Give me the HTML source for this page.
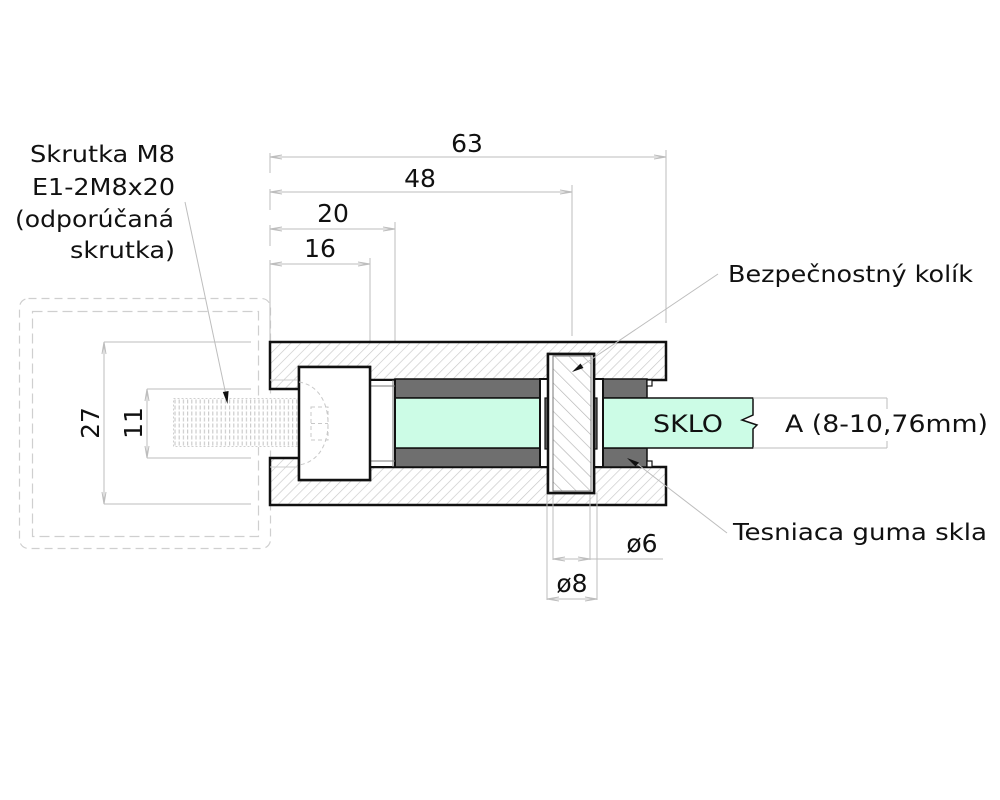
<!DOCTYPE html>
<html><head><meta charset="utf-8"><style>
html,body{margin:0;padding:0;background:#fff;}
svg{display:block;}
text{font-family:"DejaVu Sans","Liberation Sans",sans-serif;fill:#111;}
</style></head><body>
<svg width="1000" height="800" viewBox="0 0 1000 800" xmlns="http://www.w3.org/2000/svg">
<defs>
<pattern id="h1" patternUnits="userSpaceOnUse" width="7" height="7" patternTransform="rotate(45)">
<rect width="7" height="7" fill="#fff"/><line x1="0" y1="0" x2="0" y2="7" stroke="#c8c8c8" stroke-width="1.3"/>
</pattern>
<pattern id="h2" patternUnits="userSpaceOnUse" width="10" height="10" patternTransform="rotate(-45)">
<rect width="10" height="10" fill="#fff"/><line x1="0" y1="0" x2="0" y2="10" stroke="#b4b4b4" stroke-width="1.3"/>
</pattern>
<pattern id="th" patternUnits="userSpaceOnUse" width="4.2" height="6" x="173" y="399">
<rect width="4.2" height="6" fill="#fff"/><line x1="2" y1="0.5" x2="2" y2="4.5" stroke="#c8c8c8" stroke-width="1.1"/>
</pattern>
</defs>
<rect width="1000" height="800" fill="#fff"/>

<!-- dashed boxes -->
<rect x="19.5" y="298.5" width="251" height="250" rx="9" fill="none" stroke="#cfcfcf" stroke-width="1.2" stroke-dasharray="8,5"/>
<rect x="32.5" y="311.5" width="226" height="225" fill="none" stroke="#cfcfcf" stroke-width="1.2" stroke-dasharray="10,5"/>

<!-- threads -->
<rect x="173" y="398" width="127" height="49" fill="url(#th)"/>
<rect x="173.5" y="398.5" width="126" height="48" fill="none" stroke="#d0d0d0" stroke-width="1" stroke-dasharray="2,2"/>

<!-- dims 27 / 11 -->
<g stroke="#bdbdbd" stroke-width="1" fill="none">
<line x1="104" y1="342" x2="251" y2="342"/>
<line x1="104" y1="504" x2="251" y2="504"/>
<line x1="104" y1="342" x2="104" y2="504"/>
<path d="M102,354 L104,342 L106,354 M102,492 L104,504 L106,492"/>
<line x1="147" y1="389" x2="251" y2="389"/>
<line x1="147" y1="458" x2="251" y2="458"/>
<line x1="147" y1="389" x2="147" y2="458"/>
<path d="M145,401 L147,389 L149,401 M145,446 L147,458 L149,446"/>
</g>
<text transform="translate(99,423) rotate(-90)" font-size="25" text-anchor="middle">27</text>
<text transform="translate(142,423) rotate(-90)" font-size="25" text-anchor="middle">11</text>

<!-- top dims -->
<g stroke="#bdbdbd" stroke-width="1" fill="none">
<line x1="270" y1="153" x2="270" y2="173"/>
<line x1="270" y1="189" x2="270" y2="210"/>
<line x1="270" y1="225" x2="270" y2="246"/>
<line x1="270" y1="260" x2="270" y2="342"/>
<line x1="270" y1="157" x2="666" y2="157"/>
<line x1="666" y1="150" x2="666" y2="323"/>
<path d="M282,155 L270,157 L282,159 M654,155 L666,157 L654,159"/>
<line x1="270" y1="192" x2="572" y2="192"/>
<line x1="572" y1="185" x2="572" y2="336"/>
<path d="M282,190 L270,192 L282,194 M560,190 L572,192 L560,194"/>
<line x1="270" y1="229" x2="395" y2="229"/>
<line x1="395" y1="222" x2="395" y2="362"/>
<path d="M282,227 L270,229 L282,231 M383,227 L395,229 L383,231"/>
<line x1="270" y1="264" x2="370" y2="264"/>
<line x1="370" y1="258" x2="370" y2="347"/>
<path d="M282,262 L270,264 L282,266 M358,262 L370,264 L358,266"/>
</g>
<text x="467" y="152" font-size="25" text-anchor="middle">63</text>
<text x="420" y="187" font-size="25" text-anchor="middle">48</text>
<text x="333" y="222" font-size="25" text-anchor="middle">20</text>
<text x="320" y="257" font-size="25" text-anchor="middle">16</text>

<!-- body plates -->
<path d="M270,342 H666 V380 H594 V354 H548 V380 H370 V367 H299 V389 H270 Z" fill="url(#h1)" stroke="#111" stroke-width="2.5"/>
<path d="M270,505 H666 V467 H594 V493 H548 V467 H370 V480 H299 V458 H270 Z" fill="url(#h1)" stroke="#111" stroke-width="2.5"/>
<line x1="270" y1="380" x2="299" y2="380" stroke="#ccc" stroke-width="1"/>
<line x1="270" y1="467" x2="299" y2="467" stroke="#ccc" stroke-width="1"/>
<!-- ext lines over body -->
<g stroke="#bdbdbd" stroke-width="1">
<line x1="547" y1="493" x2="547" y2="600"/>
<line x1="597" y1="493" x2="597" y2="600"/>
<line x1="553" y1="493" x2="553" y2="560"/>
<line x1="590" y1="493" x2="590" y2="560"/>
</g>

<!-- gaskets -->
<rect x="395" y="379" width="145" height="19" fill="#6f6f6f" stroke="#111" stroke-width="1.5"/>
<rect x="395" y="448" width="145" height="19" fill="#6f6f6f" stroke="#111" stroke-width="1.5"/>
<rect x="603" y="379" width="44" height="19" fill="#6f6f6f" stroke="#111" stroke-width="1.5"/>
<rect x="603" y="448" width="44" height="19" fill="#6f6f6f" stroke="#111" stroke-width="1.5"/>
<rect x="647" y="380" width="5" height="6" fill="#fff" stroke="#111" stroke-width="1.2"/>
<rect x="647" y="461" width="5" height="6" fill="#fff" stroke="#111" stroke-width="1.2"/>

<!-- glass -->
<rect x="395" y="398" width="145" height="50" fill="#ccfce6" stroke="#111" stroke-width="1.5"/>
<path d="M603,398 H753 V415 L742,420 L757,425 L753,429 V448 H603 Z" fill="#ccfce6" stroke="#111" stroke-width="1.5"/>

<!-- sleeve -->
<rect x="540" y="379" width="63" height="88" fill="#fff" stroke="#111" stroke-width="2"/>
<rect x="545" y="398" width="8" height="51" fill="#6f6f6f" stroke="#111" stroke-width="1.2"/>
<rect x="591" y="398" width="6" height="51" fill="#6f6f6f" stroke="#111" stroke-width="1.2"/>

<!-- pin -->
<rect x="548" y="354" width="46" height="139" fill="#fff" stroke="#111" stroke-width="2.5"/>
<rect x="553" y="356" width="38" height="135" fill="url(#h2)" stroke="#777" stroke-width="1"/>

<!-- washer / bolt head -->
<rect x="370" y="380" width="25" height="87" fill="#fff" stroke="#111" stroke-width="2"/>
<line x1="370" y1="386" x2="395" y2="386" stroke="#777" stroke-width="1"/>
<line x1="370" y1="461" x2="395" y2="461" stroke="#777" stroke-width="1"/>
<line x1="393" y1="380" x2="393" y2="467" stroke="#777" stroke-width="1"/>
<rect x="299" y="367" width="71" height="113" fill="#fff" stroke="#111" stroke-width="2.5"/>
<g fill="none" stroke="#c8c8c8" stroke-width="1" stroke-dasharray="4,3">
<path d="M299,382 C318,385 328,402 328,423.5 C328,445 318,462 299,465"/>
<rect x="311" y="407" width="17" height="33"/>
<line x1="311" y1="423.5" x2="328" y2="423.5"/>
</g>

<!-- leaders -->
<g stroke="#bdbdbd" stroke-width="1" fill="none">
<line x1="185" y1="202" x2="226" y2="395"/>
<line x1="718" y1="274" x2="580" y2="367"/>
<line x1="727" y1="533" x2="636" y2="463"/>
</g>
<path d="M227.5,404 L222.8,392 L228.6,391 Z" fill="#111"/>
<path d="M572,372 L580.5,363.5 L583.5,368 Z" fill="#111"/>
<path d="M627,458 L639,462.5 L635.5,466.5 Z" fill="#111"/>

<!-- bottom dims -->
<g stroke="#bdbdbd" stroke-width="1" fill="none">
<line x1="553" y1="559" x2="663" y2="559"/>
<path d="M565,557 L553,559 L565,561 M578,557 L590,559 L578,561"/>
<line x1="547" y1="599" x2="597" y2="599"/>
<path d="M559,597 L547,599 L559,601 M585,597 L597,599 L585,601"/>
</g>
<text x="642" y="552" font-size="25" text-anchor="middle">ø6</text>
<text x="572" y="592" font-size="25" text-anchor="middle">ø8</text>

<!-- dim A -->
<g stroke="#bdbdbd" stroke-width="1" fill="none">
<line x1="753" y1="398" x2="887" y2="398"/>
<line x1="753" y1="448" x2="887" y2="448"/>
<line x1="887" y1="398" x2="887" y2="409"/>
<line x1="887" y1="441" x2="887" y2="448"/>
</g>

<!-- labels -->
<text x="653" y="432" font-size="24" textLength="70" lengthAdjust="spacingAndGlyphs">SKLO</text>
<text x="785" y="432" font-size="24" textLength="203" lengthAdjust="spacingAndGlyphs">A (8-10,76mm)</text>
<text x="728" y="282" font-size="23" textLength="245" lengthAdjust="spacingAndGlyphs">Bezpečnostný kolík</text>
<text x="733" y="540" font-size="23" textLength="254" lengthAdjust="spacingAndGlyphs">Tesniaca guma skla</text>
<text x="30" y="162" font-size="23" textLength="145" lengthAdjust="spacingAndGlyphs">Skrutka M8</text>
<text x="32" y="195" font-size="23" textLength="143" lengthAdjust="spacingAndGlyphs">E1-2M8x20</text>
<text x="15" y="227" font-size="23" textLength="159" lengthAdjust="spacingAndGlyphs">(odporúčaná</text>
<text x="70" y="258" font-size="23" textLength="105" lengthAdjust="spacingAndGlyphs">skrutka)</text>
</svg>
</body></html>
